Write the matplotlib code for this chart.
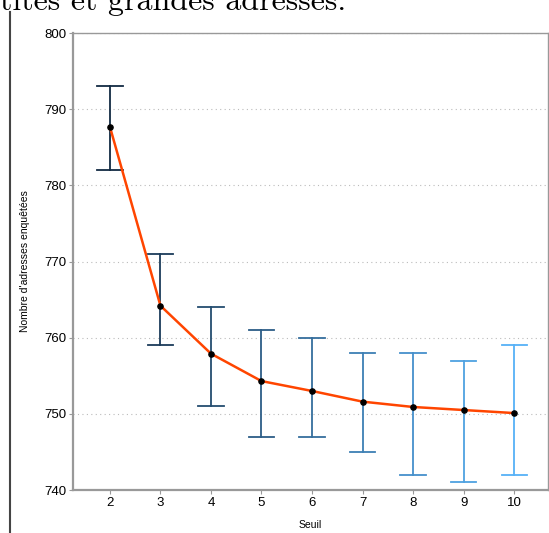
import numpy as np
import matplotlib
matplotlib.use("Agg")
from matplotlib import pyplot as plt
from matplotlib.colors import LinearSegmentedColormap
from matplotlib.lines import Line2D

# data
seuil = [2, 3, 4, 5, 6, 7, 8, 9, 10]
moyenne = [787.7, 764.2, 757.9, 754.3, 753.0, 751.6, 750.9, 750.5, 750.1]
borne_haute = [793, 771, 764, 761, 760, 758, 758, 757, 759]
borne_basse = [782, 759, 751, 747, 747, 745, 742, 741, 742]
y_ticks = [740, 750, 760, 770, 780, 790, 800]

cmap = LinearSegmentedColormap.from_list("gg", ["#132B43", "#56B1F7"])

fig = plt.figure(figsize=(5.49, 5.33), dpi=100)
ax = fig.add_axes([73 / 549, 43 / 533, 475 / 549, 457 / 533])

# error bars coloured by threshold
for i, s in enumerate(seuil):
    c = cmap((s - min(seuil)) / (max(seuil) - min(seuil)))
    ax.plot([s, s], [borne_basse[i], borne_haute[i]], color=c, lw=1.3, zorder=2)
    ax.plot([s - 0.25, s + 0.25], [borne_haute[i]] * 2, color=c, lw=1.3, zorder=2)
    ax.plot([s - 0.25, s + 0.25], [borne_basse[i]] * 2, color=c, lw=1.3, zorder=2)

ax.plot(seuil, moyenne, color="#FF4500", lw=1.8, zorder=3)
ax.scatter(seuil, moyenne, color="black", s=14, zorder=4)

ax.set_xlim(1.27, 10.67)
ax.set_ylim(740, 800)
ax.set_xticks(seuil)
ax.set_yticks(y_ticks)
ax.yaxis.grid(True, color="#bbbbbb", linestyle=(0, (1, 3)), lw=0.8)
ax.set_axisbelow(True)

for sp in ax.spines.values():
    sp.set_color("#999999")
    sp.set_linewidth(1.0)
ax.spines["left"].set_linewidth(1.6)
ax.spines["bottom"].set_linewidth(1.6)
ax.tick_params(colors="#999999", labelcolor="black", labelsize=9.5, length=3, width=0.8, pad=2)
for lab in ax.get_xticklabels() + ax.get_yticklabels():
    lab.set_family("Liberation Sans")

ax.set_xlabel("Seuil", fontsize=7.5, family="Liberation Sans", labelpad=8)
ax.set_ylabel("Nombre d'adresses enquêtées", fontsize=7.5, family="Liberation Sans", labelpad=10)

# surrounding document bits
fig.text(0.0, 1.0 - 10 / 533, "tites et grandes adresses.", fontname="cmr10",
         fontsize=23, ha="left", va="baseline")
fig.add_artist(Line2D([10 / 549, 10 / 549], [0, 1 - 12 / 533], color="#444444", lw=1.5))

fig.savefig("out.png", dpi=100)
